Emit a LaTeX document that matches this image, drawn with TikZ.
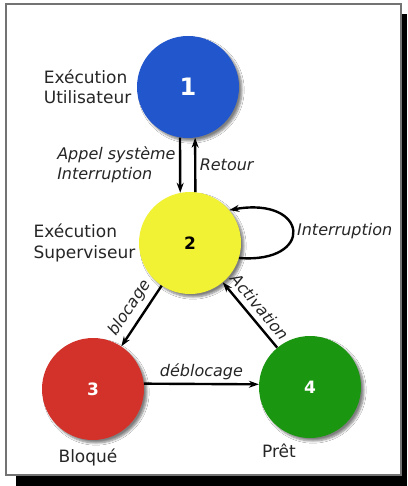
\documentclass[tikz,border=0pt]{standalone}
\usepackage{fontspec}
\setmainfont{DejaVu Sans}
\usepackage{tikz}
\usetikzlibrary{positioning,arrows.meta,shadows.blur}
\definecolor{bleuetat}{RGB}{33,86,204}
\definecolor{jauneetat}{RGB}{242,242,52}
\definecolor{rougeetat}{RGB}{210,50,42}
\definecolor{vertetat}{RGB}{26,150,16}
\tikzstyle{etat}=[circle, minimum size=102pt, inner sep=0pt, text=white, font=\fontsize{17}{20}\selectfont\bfseries, blur shadow={shadow xshift=3pt, shadow yshift=-3pt, shadow blur steps=6, shadow opacity=50}]
\tikzstyle{fleche}=[-{Stealth[length=10pt,width=7pt]}, line width=2.4pt]
\tikzstyle{lbl}=[text=black!85, font=\fontsize{17}{20.5}\selectfont]
\tikzstyle{ilbl}=[text=black!85, font=\fontsize{16}{20}\selectfont\itshape]

\begin{document}
\begin{tikzpicture}[x=1pt,y=-1pt]
\useasboundingbox (0,0) rectangle (407,486);
\fill[black] (16,14) rectangle (407,486);
\draw[fill=white,draw=black!55,line width=1.5pt] (6,4) rectangle (401,475);

\node[etat,fill=bleuetat,font=\fontsize{24}{24}\selectfont\bfseries](user) at (188,87) {1};
\node[etat,fill=jauneetat,text=black](super) at (190,243) {2};
\node[etat,fill=rougeetat](bloque) at (93,389) {3};
\node[etat,fill=vertetat](pret) at (310,387) {4};

\node[lbl,align=left,left=2pt of user] (userlbl) {Exécution\\Utilisateur};
\node[lbl,align=left,left=0pt of super] (superlbl) {Exécution\\Superviseur};
\node[lbl,below=5pt of bloque,xshift=-5pt] (bloquelbl) {Bloqué};
\node[lbl,below=2pt of pret,xshift=-31pt] (pretlbl) {Prêt};

\draw[fleche](user.261) -- node[ilbl,left,align=left] {Appel système\\Interruption} (super.101);
\draw[fleche](super.84) -- node[ilbl,right] {Retour} (user.278);
\draw[fleche](super.-17) .. controls +(76,6) and +(80,-14) .. node[ilbl,right] {Interruption} (super.40);
\draw[fleche](super) -- node[ilbl,above=2pt,sloped] {blocage} (bloque);
\draw[fleche](pret) -- node[ilbl,above=2pt,sloped] {Activation} (super);
\draw[fleche](bloque.6) -- node[ilbl,above] {déblocage} (pret.177);

\end{tikzpicture}
\end{document}
